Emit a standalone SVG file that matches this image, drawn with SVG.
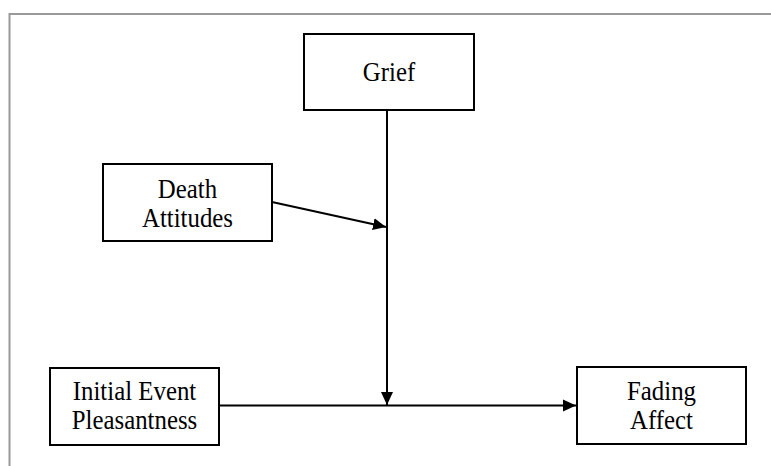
<svg xmlns="http://www.w3.org/2000/svg" width="771" height="466" viewBox="0 0 771 466">
<defs>
<style>
.box{fill:#fff;stroke:#000;stroke-width:2}
.lbl{font-family:"Liberation Serif","Times New Roman",serif;font-size:27px;fill:#000;text-anchor:middle}
.edge{stroke:#000;stroke-width:2;fill:none}
.frame{stroke:#999;stroke-width:2;fill:none}
</style>
<marker id="ah" markerUnits="userSpaceOnUse" markerWidth="14" markerHeight="13" refX="13" refY="6.5" orient="auto">
<path d="M0,0.5 L13,6.5 L0,12.5 z" fill="#000"/>
</marker>
</defs>
<rect width="771" height="466" fill="#fff"/>
<path class="frame" d="M9.5,466 L9.5,14 L771,14"/>
<g id="connectors">
<line class="edge" x1="387" y1="110" x2="387" y2="405" marker-end="url(#ah)"/>
<line class="edge" x1="220" y1="405.5" x2="576" y2="405.5" marker-end="url(#ah)"/>
<line class="edge" x1="272" y1="202" x2="386" y2="227" marker-end="url(#ah)"/>
</g>
<g id="grief">
<rect class="box" x="304" y="34" width="170" height="76"/>
<text class="lbl" transform="translate(389,81) scale(0.92,1)">Grief</text>
</g>
<g id="death-attitudes">
<rect class="box" x="103" y="164" width="169" height="77"/>
<text class="lbl" transform="translate(187.5,198) scale(0.92,1)">Death</text>
<text class="lbl" transform="translate(187.5,227) scale(0.92,1)">Attitudes</text>
</g>
<g id="initial-event-pleasantness">
<rect class="box" x="50" y="368" width="169" height="77"/>
<text class="lbl" transform="translate(134.5,400) scale(0.92,1)">Initial Event</text>
<text class="lbl" transform="translate(134.5,429) scale(0.92,1)">Pleasantness</text>
</g>
<g id="fading-affect">
<rect class="box" x="577" y="367" width="169" height="77"/>
<text class="lbl" transform="translate(661.5,400) scale(0.92,1)">Fading</text>
<text class="lbl" transform="translate(661.5,429) scale(0.92,1)">Affect</text>
</g>
</svg>
